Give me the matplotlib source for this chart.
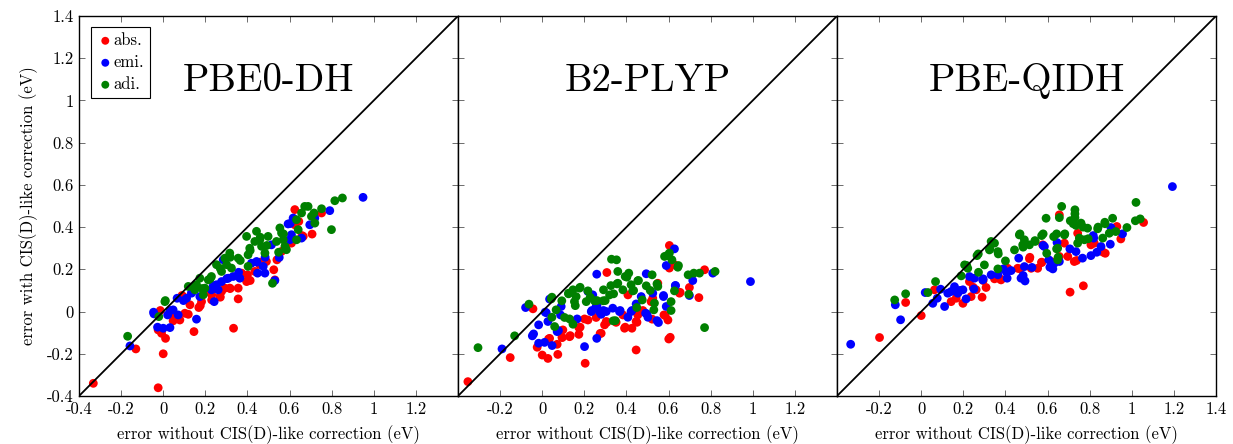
import matplotlib
matplotlib.use("Agg")
import matplotlib.pyplot as plt
import numpy as np

plt.rcParams['font.family'] = ['cmr10', 'DejaVu Serif']
plt.rcParams['mathtext.fontset'] = 'cm'
plt.rcParams['axes.unicode_minus'] = False
plt.rcParams['axes.formatter.use_mathtext'] = True

panel_titles = ["PBE0-DH", "B2-PLYP", "PBE-QIDH"]
series_names = ["abs.", "emi.", "adi."]
series_colors = ["#ff0000", "#0000ff", "#008000"]

# ---------- PBE0-DH ----------
p1_abs_x = [-0.332, -0.024, -0.13, 0.0, -0.014, -0.008, 0.011, 0.146, 0.334, 0.047, 0.079, 0.119,
            0.095, 0.169, 0.182, 0.23, 0.269, 0.277, 0.356, 0.356, 0.316, 0.396, 0.372, 0.435,
            0.49, 0.525, 0.53, 0.54, 0.562, 0.609, 0.625, 0.707, 0.665, 0.625, 0.644, 0.752,
            0.4, 0.459, 0.23, 0.055, 0.103, -0.024, 0.127, 0.214, 0.293, 0.58,
            0.089, 0.176, 0.271, 0.318, 0.413, 0.46, 0.659, 0.057]
p1_abs_y = [-0.340, -0.361, -0.177, -0.2, 0.005, -0.103, -0.127, -0.095, -0.079, -0.044, -0.04, -0.013,
            0.071, 0.019, 0.047, 0.055, 0.071, 0.095, 0.06, 0.111, 0.111, 0.142, 0.182, 0.19,
            0.237, 0.198, 0.15, 0.245, 0.285, 0.324, 0.411, 0.367, 0.356, 0.483, 0.427, 0.467,
            0.174, 0.222, 0.079, -0.024, -0.008, -0.087, 0.032, 0.095, 0.111, 0.30,
            0.076, 0.028, 0.068, 0.109, 0.147, 0.234, 0.36, -0.033]
p1_emi_x = [-0.158, -0.044, -0.027, 0.0, 0.032, 0.021, 0.047, 0.066, 0.071, 0.111, 0.158, 0.174,
            0.134, 0.242, 0.229, 0.253, 0.277, 0.309, 0.364, 0.332, 0.261, 0.285, 0.419, 0.443,
            0.448, 0.483, 0.475, 0.53, 0.551, 0.601, 0.609, 0.593, 0.617, 0.696, 0.72, 0.791,
            0.949, 0.514, 0.657,
            0.096, 0.136, 0.238, 0.302, 0.358, 0.445, 0.484, 0.603, -0.046, 0.033]
p1_emi_y = [-0.163, -0.011, -0.074, -0.079, -0.076, -0.016, 0.008, 0.063, -0.016, 0.063, -0.036, 0.071,
            0.087, 0.047, 0.103, 0.127, 0.142, 0.158, 0.158, 0.166, 0.103, 0.245, 0.229, 0.237,
            0.182, 0.182, 0.214, 0.147, 0.256, 0.34, 0.364, 0.415, 0.443, 0.411, 0.443, 0.478,
            0.541, 0.316, 0.348,
            0.052, 0.091, 0.123, 0.156, 0.186, 0.234, 0.257, 0.417, -0.003, 0.005]
p1_adi_x = [-0.169, -0.021, 0.008, 0.119, 0.174, 0.158, 0.15, 0.19, 0.198, 0.214, 0.229, 0.253,
            0.277, 0.293, 0.316, 0.324, 0.356, 0.301, 0.396, 0.403, 0.411, 0.403, 0.443, 0.435,
            0.459, 0.467, 0.483, 0.498, 0.519, 0.538, 0.554, 0.562, 0.57, 0.585, 0.578, 0.633,
            0.641, 0.633, 0.657, 0.672, 0.688, 0.704, 0.72, 0.716, 0.752, 0.815, 0.851, 0.799,
            0.143, 0.184, 0.223, 0.271, 0.318, 0.366, 0.413, 0.461, 0.492, 0.571, 0.548, 0.01]
p1_adi_y = [-0.117, -0.024, 0.047, 0.119, 0.158, 0.127, 0.103, 0.079, 0.111, 0.15, 0.166, 0.222,
            0.19, 0.253, 0.277, 0.206, 0.253, 0.222, 0.356, 0.269, 0.3, 0.214, 0.38, 0.332,
            0.34, 0.309, 0.277, 0.356, 0.134, 0.332, 0.396, 0.372, 0.34, 0.293, 0.309, 0.34,
            0.388, 0.435, 0.467, 0.498, 0.498, 0.451, 0.419, 0.467, 0.487, 0.525, 0.538, 0.388,
            0.115, 0.109, 0.156, 0.204, 0.257, 0.242, 0.289, 0.352, 0.313, 0.368, 0.281, 0.052]

# ---------- B2-PLYP ----------
p2_abs_x = [-0.353, -0.152, -0.044, -0.024, 0.0, 0.027, 0.074, 0.071, 0.035, 0.095, 0.13, 0.098,
            0.174, 0.174, 0.201, 0.217, 0.204, 0.256, 0.28, 0.296, 0.304, 0.351, 0.383, 0.391,
            0.426, 0.446, 0.446, 0.454, 0.407, 0.307, 0.522, 0.517, 0.549, 0.578, 0.597, 0.601,
            0.604, 0.604, 0.628, 0.652, 0.699, 0.744, 0.771, 0.478, 0.525,
            0.03, 0.094, 0.133, 0.18, 0.275, 0.307, 0.394, 0.45, 0.584, 0.608, 0.655]
p2_abs_y = [-0.332, -0.218, 0.013, -0.169, -0.206, -0.222, -0.203, -0.155, -0.127, -0.123, -0.119, -0.087,
            -0.108, -0.076, -0.035, -0.04, -0.245, -0.028, -0.103, -0.063, -0.047, -0.051, -0.016, -0.079,
            -0.079, -0.182, -0.047, -0.016, 0.079, 0.185, -0.036, 0.047, 0.134, -0.016, -0.04, -0.13,
            0.313, 0.206, 0.222, 0.087, 0.114, 0.066, 0.198, 0.005, 0.063,
            -0.13, -0.122, -0.114, -0.074, -0.104, -0.051, -0.074, -0.051, -0.019, -0.122, 0.091]
p2_emi_x = [-0.191, -0.079, -0.047, -0.017, -0.017, 0.011, 0.019, 0.027, 0.035, 0.047, 0.071, 0.087,
            0.09, 0.166, 0.201, 0.259, 0.259, 0.217, 0.24, 0.233, 0.256, 0.272, 0.28, 0.304,
            0.335, 0.367, 0.407, 0.422, 0.446, 0.47, 0.494, 0.491, 0.502, 0.552, 0.576, 0.589,
            0.589, 0.628, 0.633, 0.715, 0.81, 0.989, 0.525, 0.699,
            -0.041, 0.014, 0.077, 0.236, 0.26, 0.291, 0.37, 0.426, 0.497, 0.545, 0.576, 0.632]
p2_emi_y = [-0.177, 0.019, -0.115, -0.063, -0.15, -0.146, -0.005, -0.047, 0.059, -0.161, -0.095, -0.016,
            0.024, -0.035, -0.166, -0.127, 0.177, 0.095, 0.079, 0.0, 0.024, 0.0, -0.013, 0.0,
            0.016, 0.0, -0.027, 0.0, 0.036, 0.071, 0.179, -0.008, -0.027, -0.052, 0.071, 0.218,
            0.024, 0.297, 0.123, 0.147, 0.182, 0.142, 0.087, 0.076,
            -0.106, -0.003, -0.09, 0.005, 0.028, 0.005, 0.005, 0.005, -0.011, -0.043, 0.076, 0.123]
p2_adi_x = [-0.305, -0.131, -0.063, 0.043, 0.046, 0.059, 0.066, 0.093, 0.106, 0.13, 0.146, 0.125,
            0.146, 0.153, 0.161, 0.177, 0.217, 0.209, 0.248, 0.289, 0.291, 0.32, 0.326, 0.329,
            0.353, 0.337, 0.359, 0.359, 0.383, 0.394, 0.411, 0.422, 0.43, 0.454, 0.475, 0.449,
            0.494, 0.522, 0.53, 0.533, 0.549, 0.581, 0.604, 0.616, 0.612, 0.612, 0.644, 0.628,
            0.693, 0.696, 0.72, 0.747, 0.821, 0.771,
            0.046, 0.125, 0.157, 0.18, 0.228, 0.26, 0.299, 0.339, 0.355, 0.402, 0.434, 0.457,
            0.513, 0.545, 0.592, 0.647, 0.347]
p2_adi_y = [-0.171, -0.115, 0.035, 0.06, -0.027, -0.071, 0.008, 0.051, -0.028, -0.035, -0.06, 0.087,
            0.103, 0.047, 0.071, 0.111, 0.098, 0.047, 0.051, 0.051, 0.103, 0.079, 0.123, 0.248,
            0.245, -0.044, 0.134, 0.19, 0.103, 0.166, 0.182, 0.127, 0.098, 0.146, 0.055, 0.019,
            0.122, 0.174, 0.008, 0.04, 0.119, 0.261, 0.277, 0.245, 0.047, 0.005, 0.21, 0.098,
            0.174, 0.082, 0.182, 0.182, 0.19, -0.076,
            0.068, 0.084, 0.028, 0.115, 0.068, 0.052, 0.052, 0.084, 0.131, 0.163, 0.1, 0.147,
            0.1, 0.131, 0.265, 0.218, -0.043]

# ---------- PBE-QIDH ----------
p3_abs_x = [-0.198, 0.0, -0.074, 0.063, 0.142, 0.166, 0.198, 0.237, 0.261, 0.289, 0.308, 0.229,
            0.348, 0.379, 0.411, 0.458, 0.482, 0.514, 0.522, 0.553, 0.572, 0.617, 0.577, 0.656,
            0.656, 0.696, 0.707, 0.727, 0.743, 0.77, 0.806, 0.822, 0.874, 0.929, 0.948, 1.056,
            0.68,
            0.247, 0.294, 0.374, 0.469, 0.516, 0.572, 0.738, 0.817, 0.864]
p3_abs_y = [-0.123, -0.019, 0.043, 0.103, 0.047, 0.063, 0.039, 0.071, 0.103, 0.068, 0.114, 0.142,
            0.155, 0.15, 0.205, 0.205, 0.166, 0.25, 0.205, 0.205, 0.232, 0.237, 0.316, 0.458,
            0.261, 0.261, 0.092, 0.237, 0.371, 0.122, 0.316, 0.324, 0.276, 0.403, 0.344, 0.422,
            0.324,
            0.115, 0.147, 0.155, 0.202, 0.257, 0.234, 0.242, 0.328, 0.281]
p3_emi_x = [-0.335, -0.123, -0.098, 0.019, 0.055, 0.076, 0.092, 0.111, 0.126, 0.142, 0.158, 0.174,
            0.198, 0.213, 0.229, 0.25, 0.253, 0.292, 0.332, 0.364, 0.39, 0.408, 0.427, 0.463,
            0.474, 0.493, 0.49, 0.526, 0.585, 0.606, 0.625, 0.632, 0.645, 0.656, 0.735, 0.766,
            0.806, 0.819, 0.834, 0.854, 0.898, 0.901, 0.956, 1.193,
            0.184, 0.294, 0.405, 0.484, 0.579, 0.611, 0.706, 0.817]
p3_emi_y = [-0.155, 0.032, -0.039, 0.09, 0.039, 0.063, 0.106, 0.024, 0.087, 0.095, 0.118, 0.087,
            0.103, 0.06, 0.166, 0.107, 0.158, 0.15, 0.174, 0.174, 0.202, 0.158, 0.194, 0.253,
            0.158, 0.145, 0.213, 0.209, 0.308, 0.245, 0.202, 0.229, 0.327, 0.237, 0.284, 0.253,
            0.265, 0.348, 0.281, 0.308, 0.319, 0.398, 0.368, 0.592,
            0.1, 0.155, 0.186, 0.171, 0.313, 0.21, 0.297, 0.36]
p3_adi_x = [-0.126, -0.074, 0.032, 0.068, 0.19, 0.206, 0.221, 0.265, 0.272, 0.3, 0.324, 0.332,
            0.348, 0.364, 0.364, 0.4, 0.443, 0.466, 0.482, 0.49, 0.514, 0.541, 0.572, 0.593,
            0.596, 0.629, 0.648, 0.648, 0.656, 0.667, 0.68, 0.708, 0.73, 0.73, 0.735, 0.743,
            0.751, 0.759, 0.775, 0.79, 0.838, 0.862, 0.873, 0.909, 0.893, 0.924, 0.977, 1.02,
            1.017, 1.04,
            0.216, 0.271, 0.326, 0.366, 0.469, 0.484, 0.54, 0.579, 0.643, 0.682, 0.73, 0.722,
            0.769, 0.793, 0.84, 0.872, 0.643, 0.65]
p3_adi_y = [0.055, 0.084, 0.09, 0.142, 0.169, 0.221, 0.205, 0.265, 0.186, 0.221, 0.292, 0.332,
            0.324, 0.284, 0.202, 0.24, 0.292, 0.363, 0.316, 0.34, 0.316, 0.332, 0.36, 0.442,
            0.276, 0.355, 0.3, 0.245, 0.445, 0.498, 0.363, 0.43, 0.482, 0.445, 0.408, 0.324,
            0.348, 0.419, 0.34, 0.395, 0.392, 0.348, 0.416, 0.442, 0.371, 0.379, 0.398, 0.517,
            0.43, 0.439,
            0.218, 0.273, 0.297, 0.273, 0.368, 0.305, 0.336, 0.368, 0.368, 0.368, 0.463, 0.416,
            0.4, 0.345, 0.4, 0.423, 0.297, 0.257]

panels = [
    [(p1_abs_x, p1_abs_y), (p1_emi_x, p1_emi_y), (p1_adi_x, p1_adi_y)],
    [(p2_abs_x, p2_abs_y), (p2_emi_x, p2_emi_y), (p2_adi_x, p2_adi_y)],
    [(p3_abs_x, p3_abs_y), (p3_emi_x, p3_emi_y), (p3_adi_x, p3_adi_y)],
]

tick_values = [-0.4, -0.2, 0, 0.2, 0.4, 0.6, 0.8, 1.0, 1.2, 1.4]
tick_text = ["-0.4", "-0.2", "0", "0.2", "0.4", "0.6", "0.8", "1", "1.2", "1.4"]
x_label_sets = [
    ["-0.4", "-0.2", "0", "0.2", "0.4", "0.6", "0.8", "1", "1.2", ""],
    ["", "-0.2", "0", "0.2", "0.4", "0.6", "0.8", "1", "1.2", ""],
    ["", "-0.2", "0", "0.2", "0.4", "0.6", "0.8", "1", "1.2", "1.4"],
]
xlabel = "error without CIS(D)-like correction (eV)"
ylabel = "error with CIS(D)-like correction (eV)"

W, H = 1233, 444
fig = plt.figure(figsize=(W / 100, H / 100), dpi=100)
left_px, top_px, pw, ph = 79, 16, 379, 380

lims = (-0.4, 1.4)
for i in range(3):
    ax = fig.add_axes([(left_px + i * pw) / W, 1 - (top_px + ph) / H, pw / W, ph / H])
    for (xs, ys), name, col in zip(panels[i], series_names, series_colors):
        ax.scatter(xs, ys, s=40, color=col, edgecolors='none', label=name, zorder=3)
    ax.plot(lims, lims, color='black', lw=1.3, zorder=4)
    ax.set_xlim(lims)
    ax.set_ylim(lims)
    ax.set_xticks(tick_values)
    ax.set_xticklabels(x_label_sets[i])
    ax.set_yticks(tick_values)
    if i == 0:
        ax.set_yticklabels(tick_text)
        ax.set_ylabel(ylabel, fontsize=12, labelpad=6)
    else:
        ax.set_yticklabels([])
    ax.tick_params(direction='in', length=4, width=0.6, top=True, right=True,
                   labelsize=12, pad=4, color='#555555')
    for sp in ax.spines.values():
        sp.set_linewidth(1.0)
    ax.set_xlabel(xlabel, fontsize=12, labelpad=6)
    ax.text(0.5, 0.83, panel_titles[i], transform=ax.transAxes, fontsize=28,
            ha='center', va='center')
    if i == 0:
        leg = ax.legend(loc='upper left', bbox_to_anchor=(0.032, 0.971), borderaxespad=0,
                        fontsize=12, handletextpad=0.0, handlelength=1.0, markerscale=0.9,
                        fancybox=False, framealpha=1, edgecolor='black', borderpad=0.35,
                        labelspacing=0.4)
        leg.get_frame().set_linewidth(0.8)

fig.savefig("out.png", dpi=100)
